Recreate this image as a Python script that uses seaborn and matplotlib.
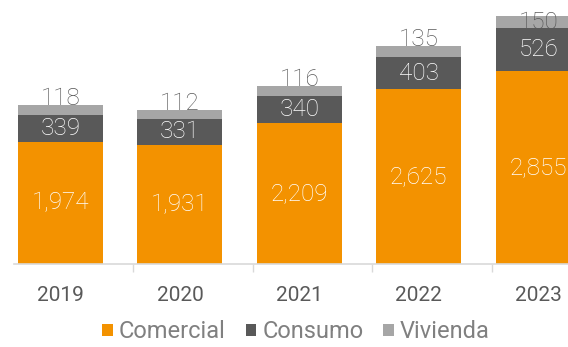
import matplotlib
matplotlib.use("Agg")
import matplotlib.pyplot as plt
from matplotlib.patches import Patch
import numpy as np
import pandas as pd
import seaborn as sns

# Portfolio by segment, per year
years = ["2019", "2020", "2021", "2022", "2023"]
comercial = [1974, 1931, 2209, 2625, 2855]
consumo = [339, 331, 340, 403, 526]
vivienda = [118, 112, 116, 135, 150]

C_COM = "#F39200"
C_CON = "#595959"
C_VIV = "#A6A6A6"
C_AXIS = "#D9D9D9"

sns.set_theme(style="white")
plt.rcParams["font.family"] = ["Roboto", "DejaVu Sans"]

df = pd.DataFrame({"year": years, "comercial": comercial,
                   "consumo": consumo, "vivienda": vivienda})
df["com_con"] = df["comercial"] + df["consumo"]
df["total"] = df["com_con"] + df["vivienda"]

W, H = 568, 347
fig = plt.figure(figsize=(W / 100, H / 100), dpi=100)
ax = fig.add_axes([14 / W, (H - 264) / H, 554 / W, 264 / H])

bw = 0.712
# stacked bars drawn back to front from cumulative heights
sns.barplot(data=df, x="year", y="total", color=C_VIV, width=bw,
            saturation=1, ax=ax, linewidth=0)
sns.barplot(data=df, x="year", y="com_con", color=C_CON, width=bw,
            saturation=1, ax=ax, linewidth=0)
sns.barplot(data=df, x="year", y="comercial", color=C_COM, width=bw,
            saturation=1, ax=ax, linewidth=0)

y0, y1 = 459, 3734
ax.set_ylim(y0, y1)
ax.set_xlim(-0.389, 4.249)

lab_kw = dict(ha="center", fontsize=17.5, fontweight="light")
label_ceiling = 3375
for i, r in df.iterrows():
    # centred in the visible part of each segment
    ax.text(i, (y0 + r["comercial"]) / 2, f"{r['comercial']:,}",
            va="center", color="white", **lab_kw)
    ax.text(i, r["comercial"] + r["consumo"] / 2, f"{r['consumo']:,}",
            va="center", color="white", **lab_kw)
    ax.text(i, min(r["total"], label_ceiling), f"{r['vivienda']:,}",
            va="baseline", color=C_CON, **lab_kw)

# axis styling
for s in ["top", "right", "left"]:
    ax.spines[s].set_visible(False)
ax.spines["bottom"].set_color(C_AXIS)
ax.spines["bottom"].set_linewidth(1.2)
ax.set_yticks([])
ax.set_xlabel("")
ax.set_ylabel("")
ax.set_xticks(range(len(years)))
ax.set_xticklabels(years, fontsize=15, color=C_CON)
ax.tick_params(axis="x", which="major", length=0, pad=16)
ax.set_xticks(np.arange(len(years) - 1) + 0.61, minor=True)
ax.tick_params(axis="x", which="minor", length=6, width=1, color=C_AXIS,
               bottom=True)

handles = [Patch(facecolor=c, edgecolor="none") for c in (C_COM, C_CON, C_VIV)]
leg = fig.legend(handles, ["Comercial", "Consumo", "Vivienda"], ncol=3,
                 loc="center", bbox_to_anchor=(296 / W, 1 - 332 / H),
                 frameon=False, fontsize=17, handlelength=0.45,
                 handleheight=0.45, handletextpad=0.25, columnspacing=0.85)
for t in leg.get_texts():
    t.set_color("#808080")

fig.savefig("out.png", dpi=100)
